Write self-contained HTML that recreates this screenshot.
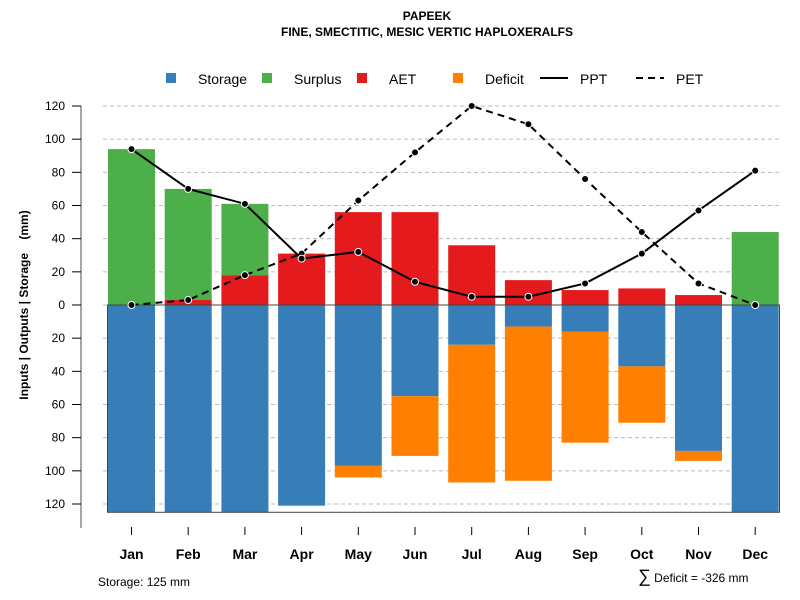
<!DOCTYPE html>
<html><head><meta charset="utf-8"><style>body{margin:0;background:#fff}svg{display:block;font-family:"Liberation Sans",sans-serif}</style></head>
<body>
<svg id="c" width="800" height="600">
<text x="427" y="20" text-anchor="middle" font-size="12" font-weight="bold">PAPEEK</text>
<text x="427" y="36" text-anchor="middle" font-size="12" font-weight="bold">FINE, SMECTITIC, MESIC VERTIC HAPLOXERALFS</text>
<g font-size="14">
<g><rect x="166" y="73" width="10" height="10" fill="#377eb8"/><text x="198" y="84">Storage</text></g>
<g><rect x="262" y="73" width="10" height="10" fill="#4daf4a"/><text x="294" y="84">Surplus</text></g>
<g><rect x="357" y="73" width="10" height="10" fill="#e41a1c"/><text x="389" y="84">AET</text></g>
<g><rect x="453" y="73" width="10" height="10" fill="#ff7f00"/><text x="485" y="84">Deficit</text></g>
<g><line x1="540" y1="78" x2="568" y2="78" stroke="#000" stroke-width="2"/><text x="580" y="84">PPT</text></g>
<g><line x1="636" y1="78" x2="664" y2="78" stroke="#000" stroke-width="2" stroke-dasharray="7,5"/><text x="676" y="84">PET</text></g>
</g>
<text transform="translate(28,305) rotate(-90)" text-anchor="middle" font-size="12" font-weight="bold" style="white-space:pre">Inputs | Outputs | Storage    (mm)</text>
<g id="grid"></g><g id="bars"></g><g id="axes"></g><g id="lines"></g>
<text x="98" y="586" font-size="12">Storage: 125 mm</text>
<text x="638" y="582" font-size="12"><tspan font-size="18">∑</tspan> Deficit = -326 mm</text>
</svg>
<script>
const months=["Jan","Feb","Mar","Apr","May","Jun","Jul","Aug","Sep","Oct","Nov","Dec"];
const storage=[125,125,125,121,97,55,24,13,16,37,88,125];
const surplus=[94,67,43,0,0,0,0,0,0,0,0,44];
const aet=[0,3,18,31,56,56,36,15,9,10,6,0];
const deficit=[0,0,0,0,7,36,83,93,67,34,6,0];
const ppt=[94,70,61,28,32,14,5,5,13,31,57,81];
const pet=[0,3,18,31,63,92,120,109,76,44,13,0];
const ticks=[120,100,80,60,40,20,0,20,40,60,80,100,120];
const tickVals=[120,100,80,60,40,20,0,-20,-40,-60,-80,-100,-120];
const NS="http://www.w3.org/2000/svg";
const Y=v=>305-v*199/120;
const X=i=>131.5+i*56.7;
const BW=47;
function mk(p,t,a){const e=document.createElementNS(NS,t);for(const k in a)e.setAttribute(k,a[k]);p.appendChild(e);return e;}
const grid=document.getElementById('grid'),bars=document.getElementById('bars'),axes=document.getElementById('axes'),lines=document.getElementById('lines');
mk(axes,'line',{x1:81,y1:Y(120),x2:81,y2:528,stroke:'#888','stroke-width':1.5});
tickVals.forEach((v,i)=>{
 const g=mk(grid,'line',{x1:103,y1:Y(v),x2:780,y2:Y(v),stroke:'#bbb','stroke-dasharray':'4,3'});
 
 mk(axes,'line',{x1:72,y1:Y(v),x2:81,y2:Y(v),stroke:'#000'});
 const t=mk(axes,'text',{x:65,y:Y(v)+4,'text-anchor':'end','font-size':12});t.textContent=ticks[i];
 
});
months.forEach((m,i)=>{
 const x=X(i)-BW/2;
 let r=mk(bars,'rect',{x:x,y:Y(0),width:BW,height:Y(-storage[i])-Y(0),fill:'#377eb8'});
 
 if(deficit[i]>0){r=mk(bars,'rect',{x:x,y:Y(-storage[i]),width:BW,height:Y(-storage[i]-deficit[i])-Y(-storage[i]),fill:'#ff7f00'});
 }
 if(aet[i]>0){r=mk(bars,'rect',{x:x,y:Y(aet[i]),width:BW,height:Y(0)-Y(aet[i]),fill:'#e41a1c'});
 }
 if(surplus[i]>0){r=mk(bars,'rect',{x:x,y:Y(aet[i]+surplus[i]),width:BW,height:Y(aet[i])-Y(aet[i]+surplus[i]),fill:'#4daf4a'});
 }
 mk(axes,'line',{x1:X(i),y1:527,x2:X(i),y2:535,stroke:'#000'});
 const t=mk(axes,'text',{x:X(i),y:559,'text-anchor':'middle','font-size':14,'font-weight':'bold'});t.textContent=m;
 
});
mk(bars,'rect',{x:107.5,y:305,width:672,height:Y(-125)-305,fill:'none',stroke:'#444'});
function series(arr,dash,name){
 const p=mk(lines,'polyline',{points:arr.map((v,i)=>X(i)+','+Y(v)).join(' '),fill:'none',stroke:'#000','stroke-width':2,'stroke-dasharray':dash});
 
 arr.forEach((v,i)=>{const c=mk(lines,'circle',{cx:X(i),cy:Y(v),r:3.5,fill:'#000',stroke:'#fff','stroke-width':1});
 });
}
series(pet,'7,5','pet');
series(ppt,'none','ppt');
</script>
</body></html>
